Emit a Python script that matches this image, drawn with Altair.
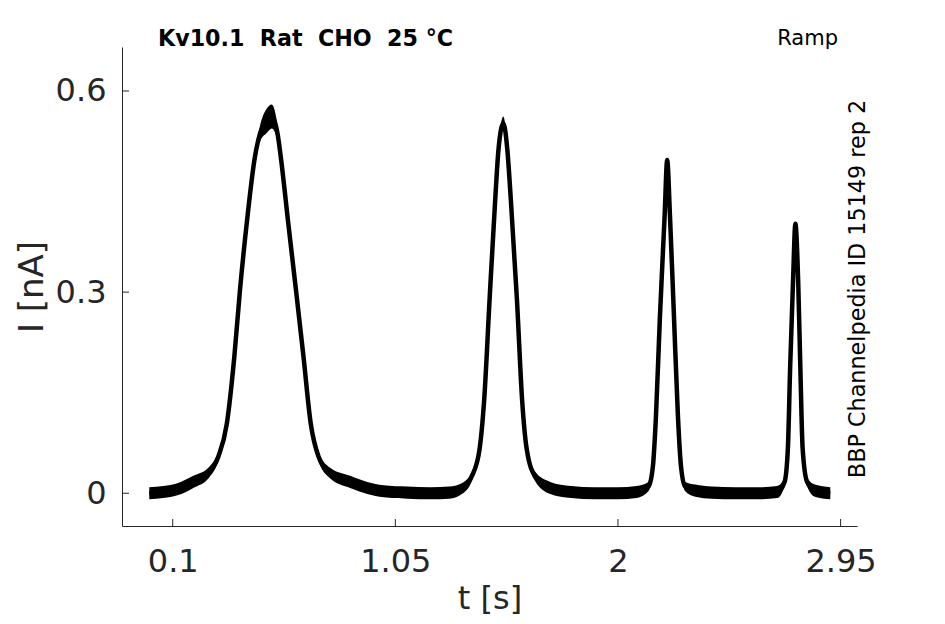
import altair as alt
import pandas as pd

# ---- data ----
t_s = [0.000, 0.060, 0.120, 0.188, 0.252, 0.295, 0.331, 0.363, 0.387, 0.416,
       0.451, 0.473, 0.500, 0.523, 0.547, 0.561, 0.593, 0.626, 0.658, 0.689,
       0.722, 0.772, 0.857, 0.930, 1.000, 1.100, 1.200, 1.280, 1.339, 1.376,
       1.409, 1.429, 1.452, 1.476, 1.490, 1.511, 1.528, 1.543, 1.569, 1.591,
       1.611, 1.647, 1.711, 1.800, 1.900, 2.000, 2.080, 2.130, 2.149, 2.162,
       2.179, 2.199, 2.210, 2.222, 2.239, 2.256, 2.269, 2.287, 2.330, 2.400,
       2.500, 2.600, 2.680, 2.711, 2.725, 2.735, 2.747, 2.757, 2.769, 2.778,
       2.788, 2.807, 2.840, 2.906]
i_nA = [0.000, 0.002, 0.006, 0.017, 0.030, 0.055, 0.104, 0.204, 0.303, 0.403,
        0.502, 0.537, 0.555, 0.562, 0.537, 0.502, 0.403, 0.303, 0.204, 0.104,
        0.055, 0.030, 0.017, 0.008, 0.003, 0.001, 0.000, 0.001, 0.008, 0.025,
        0.065, 0.139, 0.288, 0.437, 0.512, 0.552, 0.512, 0.437, 0.288, 0.139,
        0.065, 0.025, 0.008, 0.002, 0.000, 0.000, 0.002, 0.010, 0.040, 0.114,
        0.263, 0.413, 0.497, 0.413, 0.263, 0.114, 0.040, 0.010, 0.004, 0.001,
        0.000, 0.000, 0.002, 0.017, 0.067, 0.191, 0.316, 0.402, 0.316, 0.191,
        0.067, 0.017, 0.004, 0.000]
# half-thickness of the noisy band of overlaid sweeps
band_nA = [0.009, 0.009, 0.009, 0.009, 0.008, 0.007, 0.005, 0.004, 0.004, 0.004,
           0.006, 0.012, 0.018, 0.018, 0.012, 0.006, 0.004, 0.004, 0.004, 0.005,
           0.007, 0.008, 0.009, 0.009, 0.009, 0.009, 0.009, 0.009, 0.008, 0.007,
           0.005, 0.003, 0.003, 0.003, 0.006, 0.010, 0.006, 0.003, 0.003, 0.003,
           0.005, 0.007, 0.009, 0.009, 0.009, 0.009, 0.009, 0.007, 0.004, 0.003,
           0.003, 0.003, 0.003, 0.003, 0.003, 0.003, 0.004, 0.007, 0.009, 0.009,
           0.009, 0.009, 0.009, 0.006, 0.003, 0.003, 0.003, 0.002, 0.003, 0.003,
           0.003, 0.006, 0.009, 0.009]

x_ticks = [0.1, 1.05, 2, 2.95]
y_ticks = [0, 0.3, 0.6]
NB = "\u00a0"  # keeps the double spaces of the original title visible in SVG
title_text = f"Kv10.1{NB}{NB}Rat{NB}{NB}CHO{NB}{NB}25{NB}°C"
protocol_text = "Ramp"
source_text = "BBP Channelpedia ID 15149 rep 2"

df = pd.DataFrame({"t": t_s, "I": i_nA, "band": band_nA})
df["hi"] = df["I"] + df["band"]
df["lo"] = df["I"] - df["band"]

AX = "#262626"
FONT = "DejaVu Sans"
W, H = 735, 479

xscale = alt.Scale(domain=[-0.1164, 3.020], nice=False, zero=False)
yscale = alt.Scale(domain=[-0.0488, 0.6656], nice=False, zero=False)

xaxis = alt.Axis(values=x_ticks, format=".3~g", title="t [s]", grid=False,
                 tickSize=0, labelPadding=20, labelFontSize=32, labelColor=AX,
                 labelFont=FONT, labelFlush=False, labelOverlap=False,
                 domainColor=AX, domainWidth=1,
                 titleFont=FONT, titleFontSize=32, titleColor=AX,
                 titleFontWeight="normal", titleY=82, titleBaseline="alphabetic")
yaxis = alt.Axis(values=y_ticks, format=".2~g", title="I [nA]", grid=False,
                 tickSize=0, labelPadding=16, labelFontSize=32, labelColor=AX,
                 labelFont=FONT, labelFlush=False, labelOverlap=False,
                 domainColor=AX, domainWidth=1,
                 titleFont=FONT, titleFontSize=34, titleColor=AX,
                 titleFontWeight="normal", titleAngle=270, titleX=-80,
                 titleY=H / 2, titleAlign="center", titleBaseline="alphabetic")

X = alt.X("t:Q", scale=xscale, axis=xaxis)

band = alt.Chart(df).mark_area(color="black", interpolate="monotone").encode(
    x=X, y=alt.Y("hi:Q", scale=yscale, axis=yaxis), y2="lo:Q")
trace = alt.Chart(df).mark_line(color="black", strokeWidth=4.5,
                                interpolate="monotone").encode(
    x=X, y=alt.Y("I:Q", scale=yscale, axis=yaxis))

xt = alt.Chart(pd.DataFrame({"t": x_ticks})).mark_rule(color=AX, strokeWidth=1).encode(
    x=X, y=alt.value(H), y2=alt.value(H - 7))
yt = alt.Chart(pd.DataFrame({"I": y_ticks})).mark_rule(color=AX, strokeWidth=1).encode(
    y=alt.Y("I:Q", scale=yscale, axis=yaxis), x=alt.value(0), x2=alt.value(7))

title = alt.Chart(alt.Data(values=[{"s": title_text}])).mark_text(
    font=FONT, fontSize=22.2, fontWeight="bold", color="black", align="left",
    baseline="alphabetic").encode(text="s:N", x=alt.value(36), y=alt.value(-1))
proto = alt.Chart(alt.Data(values=[{"s": protocol_text}])).mark_text(
    font=FONT, fontSize=21, color="black", align="right",
    baseline="alphabetic").encode(text="s:N", x=alt.value(716), y=alt.value(-2))
source = alt.Chart(alt.Data(values=[{"s": source_text}])).mark_text(
    font=FONT, fontSize=22.3, color="black", align="center", angle=270,
    baseline="alphabetic").encode(text="s:N", x=alt.value(742.5), y=alt.value(242))

chart = alt.layer(band, trace, xt, yt, title, proto, source).properties(
    width=W, height=H, autosize="none",
    padding={"left": 114, "top": 39, "right": 80, "bottom": 90},
    background="white",
).configure_view(stroke=None)

chart.save("out.html", embed_options={"renderer": "svg", "actions": False})
